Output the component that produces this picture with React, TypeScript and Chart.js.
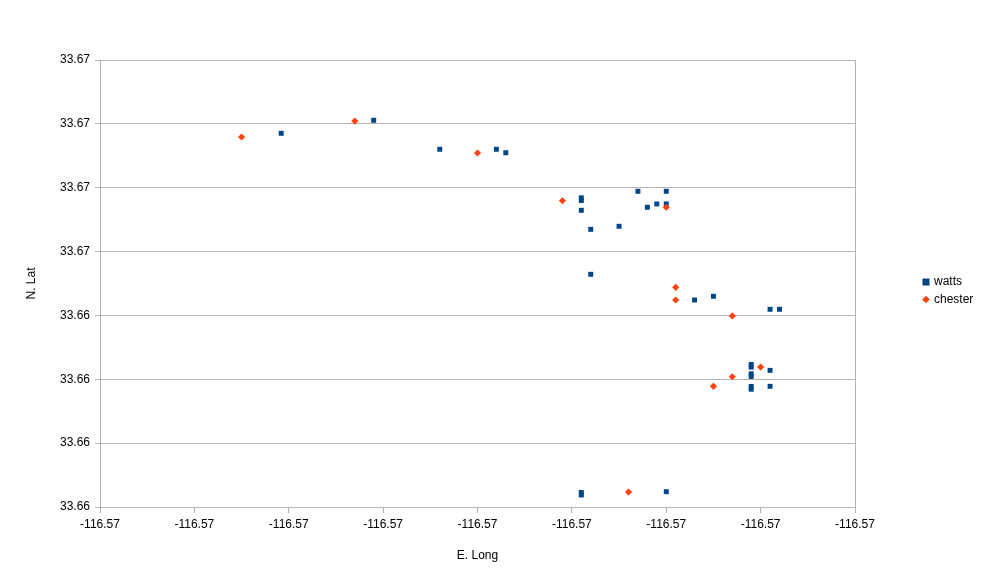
import React, { useEffect, useRef } from "react";
import { Chart, registerables } from "chart.js";

Chart.register(...registerables);

const seriesNames = ["watts", "chester"];

const wattsLong = [
  -116.57304, -116.57255, -116.5722, -116.5719, -116.57185, -116.57145, -116.57145, -116.57145,
  -116.5714, -116.57125, -116.57115, -116.571, -116.5711, -116.57105, -116.571, -116.5714,
  -116.57085, -116.57075, -116.57045, -116.5704, -116.57055, -116.57055, -116.57055, -116.57055,
  -116.57055, -116.57055, -116.57045, -116.57045, -116.57145, -116.57145, -116.571,
];
const wattsLat = [
  33.665926, 33.666028, 33.665801, 33.665801, 33.665774, 33.665421, 33.6654, 33.665323,
  33.665174, 33.665198, 33.665472, 33.665472, 33.665347, 33.665373, 33.665373, 33.664822,
  33.664621, 33.66465, 33.664548, 33.664548, 33.664116, 33.664095, 33.664043, 33.664022,
  33.663944, 33.663922, 33.66407, 33.663945, 33.663114, 33.663094, 33.66312,
];

const chesterLong = [
  -116.57325, -116.57265, -116.572, -116.57155, -116.571, -116.57095, -116.57095, -116.57065,
  -116.5705, -116.57065, -116.57075, -116.5712,
];
const chesterLat = [
  33.665897, 33.666022, 33.665772, 33.665398, 33.665347, 33.66472, 33.664621, 33.664496,
  33.664096, 33.66402, 33.663945, 33.663117,
];

const xTickLabels = [
  "-116.57", "-116.57", "-116.57", "-116.57", "-116.57", "-116.57", "-116.57", "-116.57", "-116.57",
];
const yTickLabels = ["33.66", "33.66", "33.66", "33.66", "33.67", "33.67", "33.67", "33.67"];

const xTitle = "E. Long";
const yTitle = "N. Lat";

const FONT = "'Liberation Sans', Arial, sans-serif";
const GRID = "#b3b3b3";

const legendPlugin = {
  id: "sideLegend",
  afterDraw(chart: any) {
    const ctx = chart.ctx;
    ctx.save();
    ctx.font = `12px ${FONT}`;
    ctx.textBaseline = "middle";
    ctx.textAlign = "left";
    const ys = [282, 299.5];
    chart.data.datasets.forEach((ds: any, i: number) => {
      const cy = ys[i];
      const cx = 926;
      ctx.fillStyle = ds.backgroundColor;
      if (ds.pointStyle === "rect") {
        ctx.fillRect(cx - 3.5, cy - 3.5, 7, 7);
      } else {
        ctx.beginPath();
        ctx.moveTo(cx, cy - 3.8);
        ctx.lineTo(cx + 3.8, cy);
        ctx.lineTo(cx, cy + 3.8);
        ctx.lineTo(cx - 3.8, cy);
        ctx.closePath();
        ctx.fill();
      }
      ctx.fillStyle = "#000000";
      ctx.fillText(ds.label, 934, cy);
    });
    ctx.restore();
  },
};

export default function App() {
  const ref = useRef<HTMLCanvasElement | null>(null);

  useEffect(() => {
    document.body.style.margin = "0";
    if (!ref.current) return;
    const chart = new Chart(ref.current, {
      type: "scatter",
      data: {
        datasets: [
          {
            label: seriesNames[0],
            data: wattsLong.map((x, i) => ({ x, y: wattsLat[i] })),
            backgroundColor: "#004586",
            borderColor: "#004586",
            pointStyle: "rect",
            pointRadius: 3.5,
            pointBorderWidth: 0,
            order: 1,
          },
          {
            label: seriesNames[1],
            data: chesterLong.map((x, i) => ({ x, y: chesterLat[i] })),
            backgroundColor: "#ff420e",
            borderColor: "#ff420e",
            pointStyle: "rectRot",
            pointRadius: 3.6,
            pointBorderWidth: 0,
            order: 0,
          },
        ],
      },
      options: {
        animation: false,
        responsive: false,
        devicePixelRatio: 1,
        layout: { padding: { top: 60, right: 136, left: 0, bottom: 0 } },
        plugins: {
          legend: { display: false },
          tooltip: { enabled: false },
        },
        scales: {
          x: {
            type: "linear",
            min: -116.574,
            max: -116.57,
            ticks: {
              stepSize: 0.0005,
              color: "#000000",
              font: { family: FONT, size: 12 },
              padding: 4,
              maxRotation: 0,
              autoSkip: false,
              callback: (_v: any, i: number) => xTickLabels[i],
            },
            grid: {
              color: (c: any) => (c.index === xTickLabels.length - 1 ? GRID : "rgba(0,0,0,0)"),
              tickColor: GRID,
              lineWidth: 1,
              tickLength: 6,
              drawTicks: true,
            },
            border: { color: GRID, width: 1 },
            title: {
              display: true,
              text: xTitle,
              color: "#000000",
              font: { family: FONT, size: 12 },
              padding: { top: 0, bottom: 21 },
            },
            afterFit: (s: any) => {
              s.height = 77;
            },
          },
          y: {
            type: "linear",
            min: 33.663,
            max: 33.6665,
            ticks: {
              stepSize: 0.0005,
              color: "#000000",
              font: { family: FONT, size: 12 },
              padding: 5,
              autoSkip: false,
              callback: (_v: any, i: number) => yTickLabels[i],
            },
            grid: { color: GRID, tickColor: GRID, lineWidth: 1, tickLength: 5, drawTicks: true },
            border: { color: GRID, width: 1 },
            title: {
              display: true,
              text: yTitle,
              color: "#000000",
              font: { family: FONT, size: 12 },
              padding: { top: 24, bottom: 0 },
            },
            afterFit: (s: any) => {
              s.width = 100;
            },
          },
        },
      },
      plugins: [legendPlugin],
    } as any);
    return () => chart.destroy();
  }, []);

  return (
    <div style={{ width: 991, height: 584, background: "#ffffff" }}>
      <canvas ref={ref} width={991} height={584} style={{ display: "block" }} />
    </div>
  );
}
